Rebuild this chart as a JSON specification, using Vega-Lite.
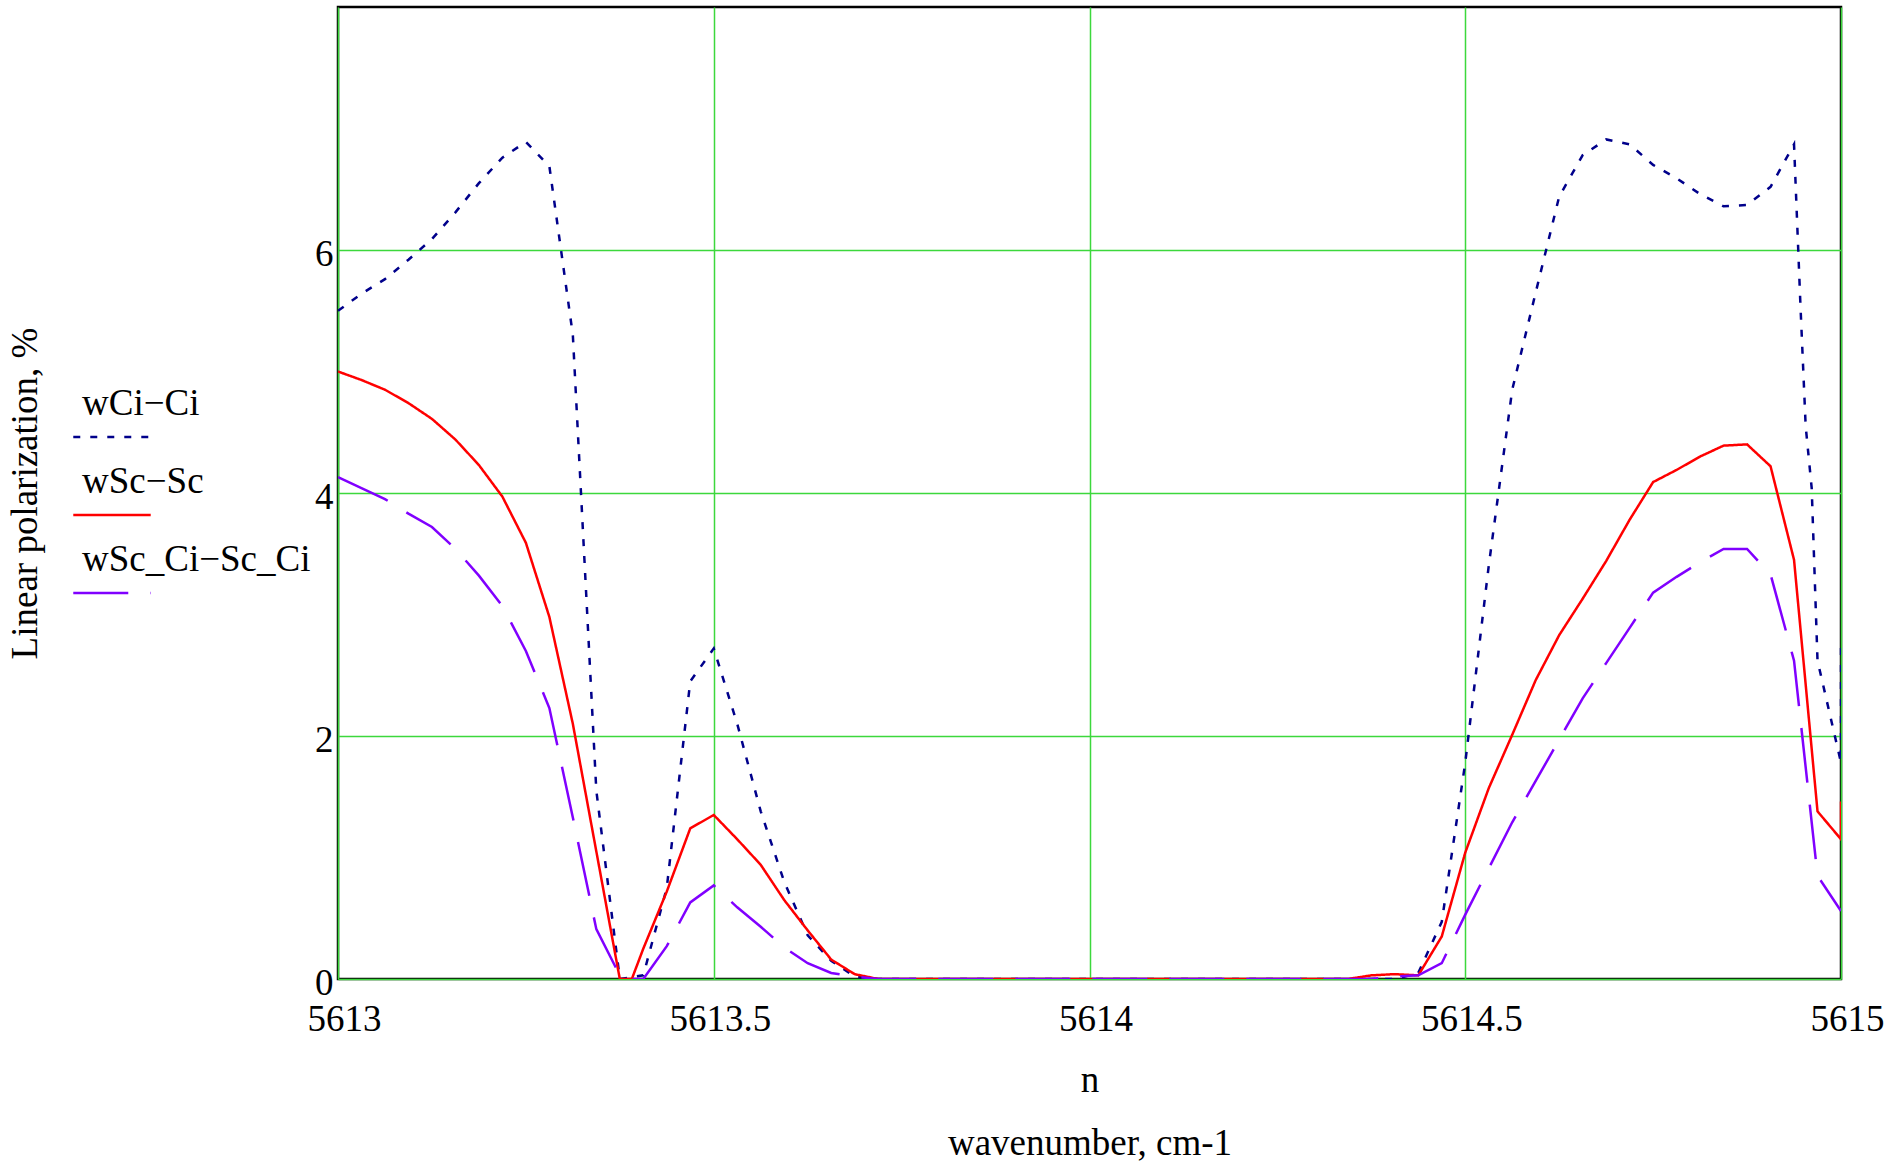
{
  "$schema": "https://vega.github.io/schema/vega-lite/v6.json",
  "width": 1503,
  "height": 972,
  "autosize": {"type": "none"},
  "padding": {"left": 338, "top": 7, "right": 52, "bottom": 189},
  "background": "white",
  "data": {"values": [
    {"n": 5613, "s": "wCi−Ci", "v": 5.50},
    {"n": 5613.03125, "s": "wCi−Ci", "v": 5.64},
    {"n": 5613.0625, "s": "wCi−Ci", "v": 5.76},
    {"n": 5613.09375, "s": "wCi−Ci", "v": 5.92},
    {"n": 5613.125, "s": "wCi−Ci", "v": 6.09},
    {"n": 5613.15625, "s": "wCi−Ci", "v": 6.31},
    {"n": 5613.1875, "s": "wCi−Ci", "v": 6.55},
    {"n": 5613.21875, "s": "wCi−Ci", "v": 6.76},
    {"n": 5613.25, "s": "wCi−Ci", "v": 6.89},
    {"n": 5613.28125, "s": "wCi−Ci", "v": 6.69},
    {"n": 5613.3125, "s": "wCi−Ci", "v": 5.30},
    {"n": 5613.34375, "s": "wCi−Ci", "v": 1.55},
    {"n": 5613.375, "s": "wCi−Ci", "v": 0.00},
    {"n": 5613.40625, "s": "wCi−Ci", "v": 0.03},
    {"n": 5613.4375, "s": "wCi−Ci", "v": 0.75},
    {"n": 5613.46875, "s": "wCi−Ci", "v": 2.45},
    {"n": 5613.5, "s": "wCi−Ci", "v": 2.72},
    {"n": 5613.53125, "s": "wCi−Ci", "v": 2.10},
    {"n": 5613.5625, "s": "wCi−Ci", "v": 1.38},
    {"n": 5613.59375, "s": "wCi−Ci", "v": 0.80},
    {"n": 5613.625, "s": "wCi−Ci", "v": 0.36},
    {"n": 5613.65625, "s": "wCi−Ci", "v": 0.15},
    {"n": 5613.6875, "s": "wCi−Ci", "v": 0.02},
    {"n": 5613.71875, "s": "wCi−Ci", "v": 0},
    {"n": 5613.75, "s": "wCi−Ci", "v": 0},
    {"n": 5613.78125, "s": "wCi−Ci", "v": 0},
    {"n": 5613.8125, "s": "wCi−Ci", "v": 0},
    {"n": 5613.84375, "s": "wCi−Ci", "v": 0},
    {"n": 5613.875, "s": "wCi−Ci", "v": 0},
    {"n": 5613.90625, "s": "wCi−Ci", "v": 0},
    {"n": 5613.9375, "s": "wCi−Ci", "v": 0},
    {"n": 5613.96875, "s": "wCi−Ci", "v": 0},
    {"n": 5614, "s": "wCi−Ci", "v": 0},
    {"n": 5614.03125, "s": "wCi−Ci", "v": 0},
    {"n": 5614.0625, "s": "wCi−Ci", "v": 0},
    {"n": 5614.09375, "s": "wCi−Ci", "v": 0},
    {"n": 5614.125, "s": "wCi−Ci", "v": 0},
    {"n": 5614.15625, "s": "wCi−Ci", "v": 0},
    {"n": 5614.1875, "s": "wCi−Ci", "v": 0},
    {"n": 5614.21875, "s": "wCi−Ci", "v": 0},
    {"n": 5614.25, "s": "wCi−Ci", "v": 0},
    {"n": 5614.28125, "s": "wCi−Ci", "v": 0},
    {"n": 5614.3125, "s": "wCi−Ci", "v": 0},
    {"n": 5614.34375, "s": "wCi−Ci", "v": 0},
    {"n": 5614.375, "s": "wCi−Ci", "v": 0},
    {"n": 5614.40625, "s": "wCi−Ci", "v": 0},
    {"n": 5614.4375, "s": "wCi−Ci", "v": 0.05},
    {"n": 5614.46875, "s": "wCi−Ci", "v": 0.47},
    {"n": 5614.5, "s": "wCi−Ci", "v": 1.78},
    {"n": 5614.53125, "s": "wCi−Ci", "v": 3.40},
    {"n": 5614.5625, "s": "wCi−Ci", "v": 4.85},
    {"n": 5614.59375, "s": "wCi−Ci", "v": 5.65},
    {"n": 5614.625, "s": "wCi−Ci", "v": 6.44},
    {"n": 5614.65625, "s": "wCi−Ci", "v": 6.78},
    {"n": 5614.6875, "s": "wCi−Ci", "v": 6.91},
    {"n": 5614.71875, "s": "wCi−Ci", "v": 6.87},
    {"n": 5614.75, "s": "wCi−Ci", "v": 6.70},
    {"n": 5614.78125, "s": "wCi−Ci", "v": 6.59},
    {"n": 5614.8125, "s": "wCi−Ci", "v": 6.46},
    {"n": 5614.84375, "s": "wCi−Ci", "v": 6.36},
    {"n": 5614.875, "s": "wCi−Ci", "v": 6.37},
    {"n": 5614.90625, "s": "wCi−Ci", "v": 6.52},
    {"n": 5614.9375, "s": "wCi−Ci", "v": 6.87},
    {"n": 5614.946, "s": "wCi−Ci", "v": 5.55},
    {"n": 5614.953, "s": "wCi−Ci", "v": 4.55},
    {"n": 5614.961, "s": "wCi−Ci", "v": 4.04},
    {"n": 5614.96875, "s": "wCi−Ci", "v": 2.62},
    {"n": 5615, "s": "wCi−Ci", "v": 1.78},
    {"n": 5615, "s": "wCi−Ci", "v": 2.79},

    {"n": 5613, "s": "wSc−Sc", "v": 5.00},
    {"n": 5613.03125, "s": "wSc−Sc", "v": 4.93},
    {"n": 5613.0625, "s": "wSc−Sc", "v": 4.85},
    {"n": 5613.09375, "s": "wSc−Sc", "v": 4.74},
    {"n": 5613.125, "s": "wSc−Sc", "v": 4.61},
    {"n": 5613.15625, "s": "wSc−Sc", "v": 4.44},
    {"n": 5613.1875, "s": "wSc−Sc", "v": 4.23},
    {"n": 5613.21875, "s": "wSc−Sc", "v": 3.97},
    {"n": 5613.25, "s": "wSc−Sc", "v": 3.59},
    {"n": 5613.28125, "s": "wSc−Sc", "v": 2.98},
    {"n": 5613.3125, "s": "wSc−Sc", "v": 2.10},
    {"n": 5613.34375, "s": "wSc−Sc", "v": 1.05},
    {"n": 5613.375, "s": "wSc−Sc", "v": 0.00},
    {"n": 5613.391, "s": "wSc−Sc", "v": 0.00},
    {"n": 5613.40625, "s": "wSc−Sc", "v": 0.25},
    {"n": 5613.4375, "s": "wSc−Sc", "v": 0.72},
    {"n": 5613.46875, "s": "wSc−Sc", "v": 1.24},
    {"n": 5613.5, "s": "wSc−Sc", "v": 1.35},
    {"n": 5613.53125, "s": "wSc−Sc", "v": 1.15},
    {"n": 5613.5625, "s": "wSc−Sc", "v": 0.94},
    {"n": 5613.59375, "s": "wSc−Sc", "v": 0.65},
    {"n": 5613.625, "s": "wSc−Sc", "v": 0.40},
    {"n": 5613.65625, "s": "wSc−Sc", "v": 0.16},
    {"n": 5613.6875, "s": "wSc−Sc", "v": 0.04},
    {"n": 5613.71875, "s": "wSc−Sc", "v": 0},
    {"n": 5613.75, "s": "wSc−Sc", "v": 0},
    {"n": 5613.78125, "s": "wSc−Sc", "v": 0},
    {"n": 5613.8125, "s": "wSc−Sc", "v": 0},
    {"n": 5613.84375, "s": "wSc−Sc", "v": 0},
    {"n": 5613.875, "s": "wSc−Sc", "v": 0},
    {"n": 5613.90625, "s": "wSc−Sc", "v": 0},
    {"n": 5613.9375, "s": "wSc−Sc", "v": 0},
    {"n": 5613.96875, "s": "wSc−Sc", "v": 0},
    {"n": 5614, "s": "wSc−Sc", "v": 0},
    {"n": 5614.03125, "s": "wSc−Sc", "v": 0},
    {"n": 5614.0625, "s": "wSc−Sc", "v": 0},
    {"n": 5614.09375, "s": "wSc−Sc", "v": 0},
    {"n": 5614.125, "s": "wSc−Sc", "v": 0},
    {"n": 5614.15625, "s": "wSc−Sc", "v": 0},
    {"n": 5614.1875, "s": "wSc−Sc", "v": 0},
    {"n": 5614.21875, "s": "wSc−Sc", "v": 0},
    {"n": 5614.25, "s": "wSc−Sc", "v": 0},
    {"n": 5614.28125, "s": "wSc−Sc", "v": 0},
    {"n": 5614.3125, "s": "wSc−Sc", "v": 0},
    {"n": 5614.34375, "s": "wSc−Sc", "v": 0},
    {"n": 5614.375, "s": "wSc−Sc", "v": 0.03},
    {"n": 5614.40625, "s": "wSc−Sc", "v": 0.04},
    {"n": 5614.4375, "s": "wSc−Sc", "v": 0.03},
    {"n": 5614.46875, "s": "wSc−Sc", "v": 0.35},
    {"n": 5614.5, "s": "wSc−Sc", "v": 1.04},
    {"n": 5614.53125, "s": "wSc−Sc", "v": 1.57},
    {"n": 5614.5625, "s": "wSc−Sc", "v": 2.01},
    {"n": 5614.59375, "s": "wSc−Sc", "v": 2.46},
    {"n": 5614.625, "s": "wSc−Sc", "v": 2.83},
    {"n": 5614.65625, "s": "wSc−Sc", "v": 3.13},
    {"n": 5614.6875, "s": "wSc−Sc", "v": 3.44},
    {"n": 5614.71875, "s": "wSc−Sc", "v": 3.78},
    {"n": 5614.75, "s": "wSc−Sc", "v": 4.09},
    {"n": 5614.78125, "s": "wSc−Sc", "v": 4.19},
    {"n": 5614.8125, "s": "wSc−Sc", "v": 4.30},
    {"n": 5614.84375, "s": "wSc−Sc", "v": 4.39},
    {"n": 5614.875, "s": "wSc−Sc", "v": 4.40},
    {"n": 5614.90625, "s": "wSc−Sc", "v": 4.22},
    {"n": 5614.9375, "s": "wSc−Sc", "v": 3.45},
    {"n": 5614.96875, "s": "wSc−Sc", "v": 1.38},
    {"n": 5615, "s": "wSc−Sc", "v": 1.15},
    {"n": 5615, "s": "wSc−Sc", "v": 1.46},

    {"n": 5613, "s": "wSc_Ci−Sc_Ci", "v": 4.13},
    {"n": 5613.03125, "s": "wSc_Ci−Sc_Ci", "v": 4.04},
    {"n": 5613.0625, "s": "wSc_Ci−Sc_Ci", "v": 3.95},
    {"n": 5613.09375, "s": "wSc_Ci−Sc_Ci", "v": 3.83},
    {"n": 5613.125, "s": "wSc_Ci−Sc_Ci", "v": 3.72},
    {"n": 5613.15625, "s": "wSc_Ci−Sc_Ci", "v": 3.54},
    {"n": 5613.1875, "s": "wSc_Ci−Sc_Ci", "v": 3.32},
    {"n": 5613.21875, "s": "wSc_Ci−Sc_Ci", "v": 3.07},
    {"n": 5613.25, "s": "wSc_Ci−Sc_Ci", "v": 2.70},
    {"n": 5613.28125, "s": "wSc_Ci−Sc_Ci", "v": 2.23},
    {"n": 5613.3125, "s": "wSc_Ci−Sc_Ci", "v": 1.33},
    {"n": 5613.34375, "s": "wSc_Ci−Sc_Ci", "v": 0.41},
    {"n": 5613.375, "s": "wSc_Ci−Sc_Ci", "v": 0.03},
    {"n": 5613.391, "s": "wSc_Ci−Sc_Ci", "v": 0.00},
    {"n": 5613.40625, "s": "wSc_Ci−Sc_Ci", "v": 0.00},
    {"n": 5613.4375, "s": "wSc_Ci−Sc_Ci", "v": 0.27},
    {"n": 5613.46875, "s": "wSc_Ci−Sc_Ci", "v": 0.63},
    {"n": 5613.5, "s": "wSc_Ci−Sc_Ci", "v": 0.77},
    {"n": 5613.53125, "s": "wSc_Ci−Sc_Ci", "v": 0.59},
    {"n": 5613.5625, "s": "wSc_Ci−Sc_Ci", "v": 0.43},
    {"n": 5613.59375, "s": "wSc_Ci−Sc_Ci", "v": 0.26},
    {"n": 5613.625, "s": "wSc_Ci−Sc_Ci", "v": 0.13},
    {"n": 5613.65625, "s": "wSc_Ci−Sc_Ci", "v": 0.05},
    {"n": 5613.6875, "s": "wSc_Ci−Sc_Ci", "v": 0.02},
    {"n": 5613.71875, "s": "wSc_Ci−Sc_Ci", "v": 0},
    {"n": 5613.75, "s": "wSc_Ci−Sc_Ci", "v": 0},
    {"n": 5613.78125, "s": "wSc_Ci−Sc_Ci", "v": 0},
    {"n": 5613.8125, "s": "wSc_Ci−Sc_Ci", "v": 0},
    {"n": 5613.84375, "s": "wSc_Ci−Sc_Ci", "v": 0},
    {"n": 5613.875, "s": "wSc_Ci−Sc_Ci", "v": 0},
    {"n": 5613.90625, "s": "wSc_Ci−Sc_Ci", "v": 0},
    {"n": 5613.9375, "s": "wSc_Ci−Sc_Ci", "v": 0},
    {"n": 5613.96875, "s": "wSc_Ci−Sc_Ci", "v": 0},
    {"n": 5614, "s": "wSc_Ci−Sc_Ci", "v": 0},
    {"n": 5614.03125, "s": "wSc_Ci−Sc_Ci", "v": 0},
    {"n": 5614.0625, "s": "wSc_Ci−Sc_Ci", "v": 0},
    {"n": 5614.09375, "s": "wSc_Ci−Sc_Ci", "v": 0},
    {"n": 5614.125, "s": "wSc_Ci−Sc_Ci", "v": 0},
    {"n": 5614.15625, "s": "wSc_Ci−Sc_Ci", "v": 0},
    {"n": 5614.1875, "s": "wSc_Ci−Sc_Ci", "v": 0},
    {"n": 5614.21875, "s": "wSc_Ci−Sc_Ci", "v": 0},
    {"n": 5614.25, "s": "wSc_Ci−Sc_Ci", "v": 0},
    {"n": 5614.28125, "s": "wSc_Ci−Sc_Ci", "v": 0},
    {"n": 5614.3125, "s": "wSc_Ci−Sc_Ci", "v": 0},
    {"n": 5614.34375, "s": "wSc_Ci−Sc_Ci", "v": 0},
    {"n": 5614.375, "s": "wSc_Ci−Sc_Ci", "v": 0},
    {"n": 5614.40625, "s": "wSc_Ci−Sc_Ci", "v": 0.02},
    {"n": 5614.4375, "s": "wSc_Ci−Sc_Ci", "v": 0.03},
    {"n": 5614.46875, "s": "wSc_Ci−Sc_Ci", "v": 0.13},
    {"n": 5614.5, "s": "wSc_Ci−Sc_Ci", "v": 0.53},
    {"n": 5614.53125, "s": "wSc_Ci−Sc_Ci", "v": 0.91},
    {"n": 5614.5625, "s": "wSc_Ci−Sc_Ci", "v": 1.29},
    {"n": 5614.59375, "s": "wSc_Ci−Sc_Ci", "v": 1.63},
    {"n": 5614.625, "s": "wSc_Ci−Sc_Ci", "v": 1.97},
    {"n": 5614.65625, "s": "wSc_Ci−Sc_Ci", "v": 2.31},
    {"n": 5614.6875, "s": "wSc_Ci−Sc_Ci", "v": 2.60},
    {"n": 5614.71875, "s": "wSc_Ci−Sc_Ci", "v": 2.89},
    {"n": 5614.75, "s": "wSc_Ci−Sc_Ci", "v": 3.18},
    {"n": 5614.78125, "s": "wSc_Ci−Sc_Ci", "v": 3.31},
    {"n": 5614.8125, "s": "wSc_Ci−Sc_Ci", "v": 3.43},
    {"n": 5614.84375, "s": "wSc_Ci−Sc_Ci", "v": 3.54},
    {"n": 5614.875, "s": "wSc_Ci−Sc_Ci", "v": 3.54},
    {"n": 5614.90625, "s": "wSc_Ci−Sc_Ci", "v": 3.33},
    {"n": 5614.9375, "s": "wSc_Ci−Sc_Ci", "v": 2.62},
    {"n": 5614.96875, "s": "wSc_Ci−Sc_Ci", "v": 0.85},
    {"n": 5615, "s": "wSc_Ci−Sc_Ci", "v": 0.56}
  ]},
  "mark": {"type": "line", "strokeWidth": 2.5, "clip": true},
  "encoding": {
    "x": {
      "field": "n", "type": "quantitative",
      "scale": {"domain": [5613, 5615], "nice": false, "zero": false},
      "axis": {
        "values": [5613, 5613.5, 5614, 5614.5, 5615],
        "format": "~f",
        "labelFlush": false,
        "labelOverlap": false,
        "labelPadding": 22,
        "labelOffset": 6,
        "title": ["n", "wavenumber, cm-1"],
        "titleLineHeight": 63,
        "titlePadding": 25
      }
    },
    "y": {
      "field": "v", "type": "quantitative",
      "scale": {"domain": [0, 8], "nice": false},
      "axis": {
        "values": [0, 2, 4, 6],
        "labelPadding": 5,
        "labelOffset": 4,
        "title": "Linear polarization, %",
        "titlePadding": 270
      }
    },
    "color": {
      "field": "s", "type": "nominal",
      "scale": {"domain": ["wCi−Ci", "wSc−Sc", "wSc_Ci−Sc_Ci"], "range": ["#00008B", "#FF0000", "#8000FF"]},
      "legend": {
        "title": null,
        "encode": {"labels": {"update": {"dx": {"value": -70}, "dy": {"value": -33}}}}
      }
    },
    "strokeDash": {
      "field": "s", "type": "nominal",
      "scale": {"domain": ["wCi−Ci", "wSc−Sc", "wSc_Ci−Sc_Ci"], "range": [[7, 10], [1, 0], [55, 22]]},
      "legend": {
        "title": null,
        "encode": {"labels": {"update": {"dx": {"value": -70}, "dy": {"value": -33}}}}
      }
    }
  },
  "config": {
    "font": "Liberation Serif",
    "view": {"stroke": "black", "strokeWidth": 2.5},
    "axis": {
      "labelFont": "Liberation Serif",
      "titleFont": "Liberation Serif",
      "labelColor": "black",
      "titleColor": "black",
      "titleFontWeight": "normal",
      "labelFontSize": 37,
      "titleFontSize": 37,
      "ticks": false,
      "domain": false,
      "gridColor": "#3CD83C",
      "gridWidth": 1.5,
      "gridOpacity": 1
    },
    "legend": {
      "orient": "none",
      "legendX": -266,
      "legendY": 390,
      "padding": 0,
      "symbolType": "stroke",
      "symbolSize": 6000,
      "symbolStrokeWidth": 2.5,
      "labelFont": "Liberation Serif",
      "labelFontSize": 37,
      "labelColor": "black",
      "labelLimit": 400,
      "labelOffset": 0,
      "rowPadding": 21
    }
  }
}
